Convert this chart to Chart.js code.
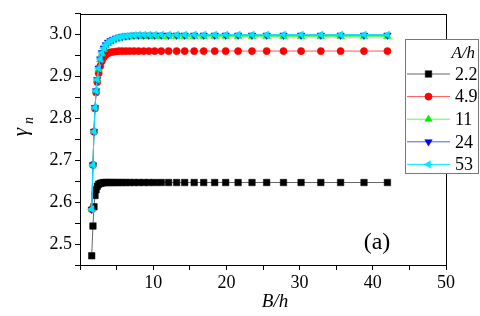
<!DOCTYPE html>
<html>
<head>
<meta charset="utf-8">
<script src="https://cdn.jsdelivr.net/npm/chart.js@4/dist/chart.umd.min.js"></script>
<style>
  html, body { margin: 0; padding: 0; background: #fff; }
  #wrap { width: 480px; height: 316px; }
</style>
</head>
<body>
<div id="wrap"><canvas id="myChart" width="480" height="316"></canvas></div>
<script>
// B/h values (same for all curves)
var bh = [1.6, 1.77, 1.91, 2.05, 2.2, 2.36, 2.55, 2.77, 3.0, 3.26, 3.54, 3.84, 4.17, 4.52, 4.91,
          5.33, 5.78, 6.27, 6.8, 7.38, 8.0, 8.7, 9.4, 10.2, 11.1, 12.1, 13.2, 14.3, 15.6, 16.9,
          18.4, 19.9, 21.6, 23.5, 25.5, 27.8, 30.2, 32.9, 35.6, 38.8, 42.0];

// gamma_n for each A/h
var g22 = [2.472, 2.543, 2.589, 2.616, 2.630, 2.638, 2.643, 2.645, 2.646, 2.647, 2.647, 2.647, 2.647, 2.647, 2.647,
           2.647, 2.647, 2.647, 2.647, 2.647, 2.647, 2.647, 2.647, 2.647, 2.647, 2.647, 2.647, 2.647, 2.647, 2.647,
           2.647, 2.647, 2.647, 2.647, 2.647, 2.647, 2.647, 2.647, 2.647, 2.647, 2.647];
var g49 = [2.583, 2.689, 2.768, 2.824, 2.862, 2.887, 2.908, 2.925, 2.937, 2.946, 2.952, 2.956, 2.958, 2.959, 2.960,
           2.961, 2.961, 2.961, 2.961, 2.961, 2.961, 2.961, 2.961, 2.961, 2.961, 2.961, 2.961, 2.961, 2.961, 2.961,
           2.961, 2.961, 2.961, 2.961, 2.961, 2.961, 2.961, 2.961, 2.961, 2.961, 2.961];
var g11 = [2.583, 2.689, 2.769, 2.826, 2.866, 2.893, 2.918, 2.940, 2.955, 2.965, 2.973, 2.979, 2.983, 2.987, 2.990,
           2.992, 2.993, 2.994, 2.995, 2.996, 2.996, 2.996, 2.996, 2.996, 2.996, 2.996, 2.996, 2.996, 2.996, 2.996,
           2.996, 2.996, 2.996, 2.996, 2.996, 2.996, 2.996, 2.996, 2.996, 2.996, 2.996];
var g24 = [2.583, 2.689, 2.769, 2.826, 2.866, 2.893, 2.920, 2.942, 2.957, 2.968, 2.976, 2.982, 2.986, 2.989, 2.992,
           2.994, 2.996, 2.997, 2.998, 2.999, 2.999, 2.999, 2.999, 2.999, 2.999, 2.999, 2.999, 2.999, 2.999, 2.999,
           2.999, 2.999, 2.999, 2.999, 2.999, 2.999, 2.999, 2.999, 2.999, 2.999, 2.999];
var g53 = [2.583, 2.689, 2.769, 2.826, 2.866, 2.893, 2.920, 2.942, 2.957, 2.968, 2.976, 2.982, 2.986, 2.989, 2.992,
           2.994, 2.996, 2.997, 2.998, 2.999, 3.000, 3.000, 3.000, 3.000, 3.000, 3.000, 3.000, 3.000, 3.000, 3.000,
           3.000, 3.000, 3.000, 3.000, 3.000, 3.000, 3.000, 3.000, 3.000, 3.000, 3.000];

var labels = ['2.2', '4.9', '11', '24', '53'];
var xTicks = [10, 20, 30, 40, 50];
var yTicks = [2.5, 2.6, 2.7, 2.8, 2.9, 3.0];

var serif = '"Liberation Serif", "DejaVu Serif", serif';

function pts(ys) {
    var out = [];
    for (var i = 0; i < bh.length; i++) out.push({ x: bh[i], y: ys[i] });
    return out;
}

var styles = [
    { line: '#666666', mark: '#000000', shape: 'rect', rot: 0, r: 4.6 },
    { line: '#ff5555', mark: '#ff0000', shape: 'circle', rot: 0, r: 3.6 },
    { line: '#55ff55', mark: '#00ee00', shape: 'triangle', rot: 0, r: 4.3 },
    { line: '#5555ff', mark: '#0000ee', shape: 'triangle', rot: 180, r: 4.3 },
    { line: '#00e5ff', mark: '#00e5ff', shape: 'triangle', rot: -90, r: 4.3 }
];
var series = [g22, g49, g11, g24, g53];

var datasets = [];
for (var k = 0; k < series.length; k++) {
    datasets.push({
        label: labels[k],
        data: pts(series[k]),
        order: series.length - k,   // later curves drawn on top
        showLine: true,
        borderColor: styles[k].line,
        borderWidth: 1,
        pointStyle: styles[k].shape,
        pointRotation: styles[k].rot,
        pointRadius: styles[k].r,
        pointBackgroundColor: styles[k].mark,
        pointBorderColor: styles[k].mark,
        pointBorderWidth: 0.5
    });
}

var decor = {
    id: 'decor',
    beforeDatasetsDraw: function (chart) {
        var a = chart.chartArea, ctx = chart.ctx;
        ctx.save();
        ctx.strokeStyle = '#000';
        ctx.lineWidth = 1;
        ctx.strokeRect(Math.round(a.left) + 0.5, Math.round(a.top) + 0.5,
                       Math.round(a.right - a.left), Math.round(a.bottom - a.top));
        ctx.restore();
    },
    afterDraw: function (chart) {
        var ctx = chart.ctx;
        ctx.save();
        // legend box
        ctx.fillStyle = '#fff';
        ctx.fillRect(405, 39, 73, 134);
        ctx.strokeStyle = '#777';
        ctx.lineWidth = 1;
        ctx.strokeRect(405.5, 39.5, 73, 134);
        ctx.fillStyle = '#000';
        ctx.font = 'italic 17px ' + serif;
        ctx.textAlign = 'right';
        ctx.textBaseline = 'middle';
        ctx.fillText('A/h', 475, 54);
        for (var i = 0; i < labels.length; i++) {
            var y = 74 + i * 22.6;
            ctx.strokeStyle = styles[i].line;
            ctx.beginPath();
            ctx.moveTo(407, y);
            ctx.lineTo(450, y);
            ctx.stroke();
            ctx.fillStyle = styles[i].mark;
            ctx.strokeStyle = styles[i].mark;
            ctx.lineWidth = 0.5;
            Chart.helpers.drawPoint(ctx, { pointStyle: styles[i].shape, rotation: styles[i].rot,
                                           radius: styles[i].r, borderWidth: 0.5 }, 428.5, y);
            ctx.lineWidth = 1;
            ctx.fillStyle = '#000';
            ctx.font = '18px ' + serif;
            ctx.textAlign = 'left';
            ctx.fillText(labels[i], 455, y + 1);
        }
        // panel label
        ctx.font = '24px ' + serif;
        ctx.textAlign = 'center';
        ctx.fillText('(a)', 377, 243);
        // x title
        ctx.font = 'italic 19px ' + serif;
        ctx.fillText('B/h', 275, 302);
        // y title gamma_n
        ctx.translate(22, 132);
        ctx.rotate(-Math.PI / 2);
        ctx.font = 'italic 21px ' + serif;
        ctx.fillText('\u03b3', 0, -1);
        ctx.font = 'italic 14px ' + serif;
        ctx.textAlign = 'left';
        ctx.fillText('n', 8, 7);
        ctx.restore();
    }
};

const ctx = document.getElementById('myChart');

new Chart(ctx, {
    type: 'scatter',
    data: { datasets: datasets },
    plugins: [decor],
    options: {
        responsive: false,
        animation: false,
        layout: { padding: { top: 1, right: 34, left: 0, bottom: 0 } },
        plugins: { legend: { display: false }, tooltip: { enabled: false } },
        scales: {
            x: {
                type: 'linear',
                min: 0,
                max: 50,
                afterFit: function (s) { s.height = 51; },
                border: { color: '#000', width: 1 },
                grid: { drawOnChartArea: false, tickLength: 5, color: '#000' },
                ticks: {
                    stepSize: 5,
                    autoSkip: false,
                    maxRotation: 0,
                    padding: 2,
                    color: '#000',
                    font: { family: serif, size: 18 },
                    callback: function (v) { return xTicks.indexOf(v) >= 0 ? String(v) : ''; }
                }
            },
            y: {
                type: 'linear',
                min: 2.45,
                max: 3.05,
                afterFit: function (s) { s.width = 80; },
                border: { color: '#000', width: 1 },
                grid: { drawOnChartArea: false, tickLength: 5, color: '#000' },
                ticks: {
                    stepSize: 0.05,
                    autoSkip: false,
                    padding: 3,
                    color: '#000',
                    font: { family: serif, size: 18 },
                    callback: function (v) {
                        for (var i = 0; i < yTicks.length; i++) {
                            if (Math.abs(v - yTicks[i]) < 1e-6) return yTicks[i].toFixed(1);
                        }
                        return '';
                    }
                }
            }
        }
    }
});
</script>
</body>
</html>
